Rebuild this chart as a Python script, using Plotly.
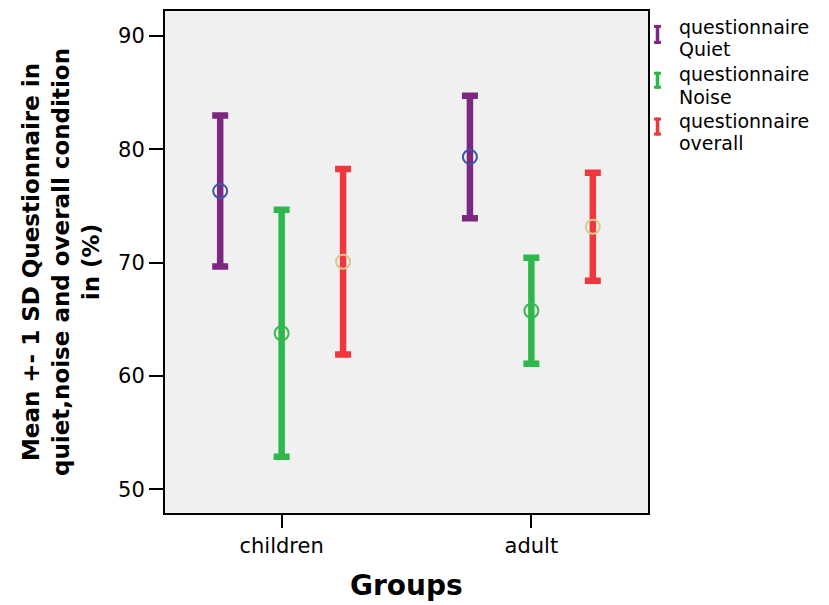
import plotly.graph_objects as go

# ---- data ----
groups = ["children", "adult"]
series_names = ["questionnaire<br>Quiet", "questionnaire<br>Noise", "questionnaire<br>overall"]
legend_lines = [["questionnaire", "Quiet"], ["questionnaire", "Noise"], ["questionnaire", "overall"]]
quiet_mean = [76.31, 79.32]
quiet_sd = [6.66, 5.41]
noise_mean = [63.76, 65.75]
noise_sd = [10.90, 4.68]
overall_mean = [70.07, 73.16]
overall_sd = [8.19, 4.77]
y_ticks = [50, 60, 70, 80, 90]

bar_colors = ["#7b2880", "#2eb84b", "#f2363e"]
marker_colors = ["#3a55a6", "#35b84d", "#d9c98c"]
offsets = [-0.246, 0.0, 0.246]
means = [quiet_mean, noise_mean, overall_mean]
sds = [quiet_sd, noise_sd, overall_sd]

FONT = "DejaVu Sans"

fig = go.Figure()
for i in range(3):
    xs = [g + offsets[i] for g in range(len(groups))]
    fig.add_trace(go.Scatter(
        x=xs, y=means[i], mode="markers", name=series_names[i], showlegend=False,
        hoverinfo="skip",
        marker=dict(symbol="circle-open", size=14, color=marker_colors[i],
                    line=dict(width=2, color=marker_colors[i])),
        error_y=dict(type="data", array=sds[i], visible=True, color=bar_colors[i],
                     thickness=6.5, width=8),
    ))

W, H = 829, 605
ml, mr, mt, mb = 165, 181, 9, 92
pw, ph = W - ml - mr, H - mt - mb


def px_x(px):
    return (px - ml) / pw


def px_y(py):
    return (H - mb - py) / ph


annotations = []
shapes = []
# legend drawn manually (error-bar style icons)
legend_text_y = [(25, 47.5), (72.5, 95), (119.5, 142)]
legend_icon = [(23, 42), (70, 87), (116, 134)]
for i in range(3):
    for line, py in zip(legend_lines[i], legend_text_y[i]):
        annotations.append(dict(
            x=px_x(677), y=px_y(py), xref="paper", yref="paper", text=line,
            showarrow=False, xanchor="left", yanchor="middle",
            font=dict(family=FONT, size=19, color="black")))
    y0, y1 = legend_icon[i]
    cx = 657.5
    shapes.append(dict(type="line", xref="paper", yref="paper",
                       x0=px_x(cx), x1=px_x(cx), y0=px_y(y0), y1=px_y(y1),
                       line=dict(color=bar_colors[i], width=3.5)))
    for yy in (y0 + 1.5, y1 - 1.5):
        shapes.append(dict(type="line", xref="paper", yref="paper",
                           x0=px_x(cx - 3.5), x1=px_x(cx + 3.5), y0=px_y(yy), y1=px_y(yy),
                           line=dict(color=bar_colors[i], width=3)))

# axis titles
annotations.append(dict(
    x=px_x(61), y=0.5, xref="paper", yref="paper",
    text="Mean +- 1 SD Questionnaire in<br>quiet,noise and overall condition<br>in (%)",
    showarrow=False, textangle=-90, xanchor="center", yanchor="middle", align="center",
    font=dict(family=FONT, size=23, color="black", weight="bold")))
annotations.append(dict(
    x=0.5, y=px_y(586), xref="paper", yref="paper", text="Groups",
    showarrow=False, xanchor="center", yanchor="middle",
    font=dict(family=FONT, size=28, color="black", weight="bold")))

fig.update_layout(
    width=W, height=H,
    margin=dict(l=ml, r=mr, t=mt, b=mb, pad=0),
    paper_bgcolor="white", plot_bgcolor="#f0f0f0",
    showlegend=False, hovermode=False,
    annotations=annotations, shapes=shapes,
    font=dict(family=FONT, size=20, color="black"),
)
fig.update_xaxes(
    range=[-0.467, 1.467], tickmode="array", tickvals=list(range(len(groups))), ticktext=groups,
    showgrid=False, zeroline=False, showline=True, linecolor="black", linewidth=2, mirror=True,
    ticks="outside", ticklen=13, tickwidth=2, tickcolor="black",
    tickfont=dict(family=FONT, size=21, color="black"),
)
fig.update_yaxes(
    range=[47.9, 92.2], tickmode="array", tickvals=y_ticks, ticktext=[str(v) for v in y_ticks],
    showgrid=False, zeroline=False, showline=True, linecolor="black", linewidth=2, mirror=True,
    ticks="outside", ticklen=14, tickwidth=2, tickcolor="black",
    tickfont=dict(family=FONT, size=21, color="black"),
)

fig.write_html("out.html", config={"displayModeBar": False},
               post_script="document.body.style.margin='0';document.body.style.overflow='hidden';")
